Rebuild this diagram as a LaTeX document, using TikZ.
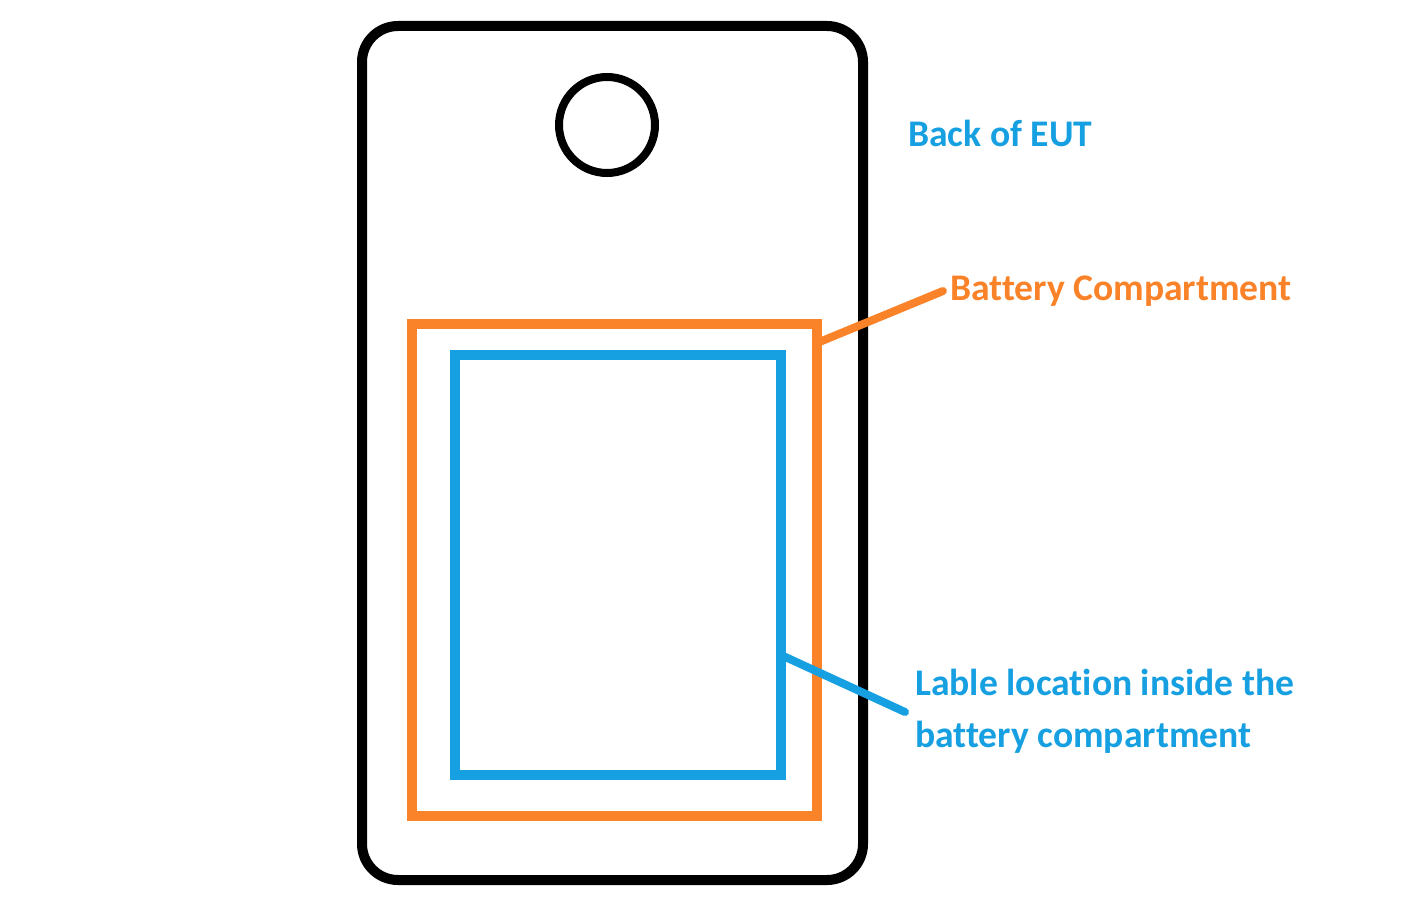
\documentclass[tikz,border=0pt]{standalone}
\usepackage{fontspec}
\setmainfont{Carlito}[Ligatures={NoCommon,TeX}]
\definecolor{eutblue}{RGB}{22,160,225}
\definecolor{eutorange}{RGB}{250,130,40}
\begin{document}
\begin{tikzpicture}[x=1pt,y=-1pt,
  box/.style={draw, inner sep=0pt, outer sep=0pt, line width=10pt},
  lbl/.style={inner sep=0pt, anchor=base west, font=\bfseries\fontsize{37.6}{52}\selectfont, align=left},
  conn/.style={line width=8pt, line cap=round}]
\fill[white] (0,0) rectangle (1420,901);
\useasboundingbox (0,0) rectangle (1420,901);
\node[box, rounded corners=36pt, minimum width=501pt, minimum height=854pt] (body) at (612.5,453) {};
\node[draw, circle, inner sep=0pt, line width=8pt, minimum size=96pt] (hole) at (607,125) {};
\node[box, draw=eutorange, minimum width=405pt, minimum height=492pt] (comp) at (614.5,570) {};
\node[box, draw=eutblue, minimum width=326pt, minimum height=420pt] (lab) at (618,565) {};
\node[lbl, text=eutblue] (back) at (908,147) {Back of EUT};
\node[lbl, text=eutorange] (bc) at (950,300) {Battery Compartment};
\node[lbl, text=eutblue] (ll) at (915,747) {Lable location inside the\\battery compartment};
\coordinate (oc) at (817,343);
\coordinate (ot) at (943,291);
\coordinate (bcs) at (781,655);
\coordinate (bt) at (905,712);
\draw[conn, eutorange] (oc) -- (ot);
\draw[conn, eutblue] (bcs) -- (bt);
\end{tikzpicture}
\end{document}
